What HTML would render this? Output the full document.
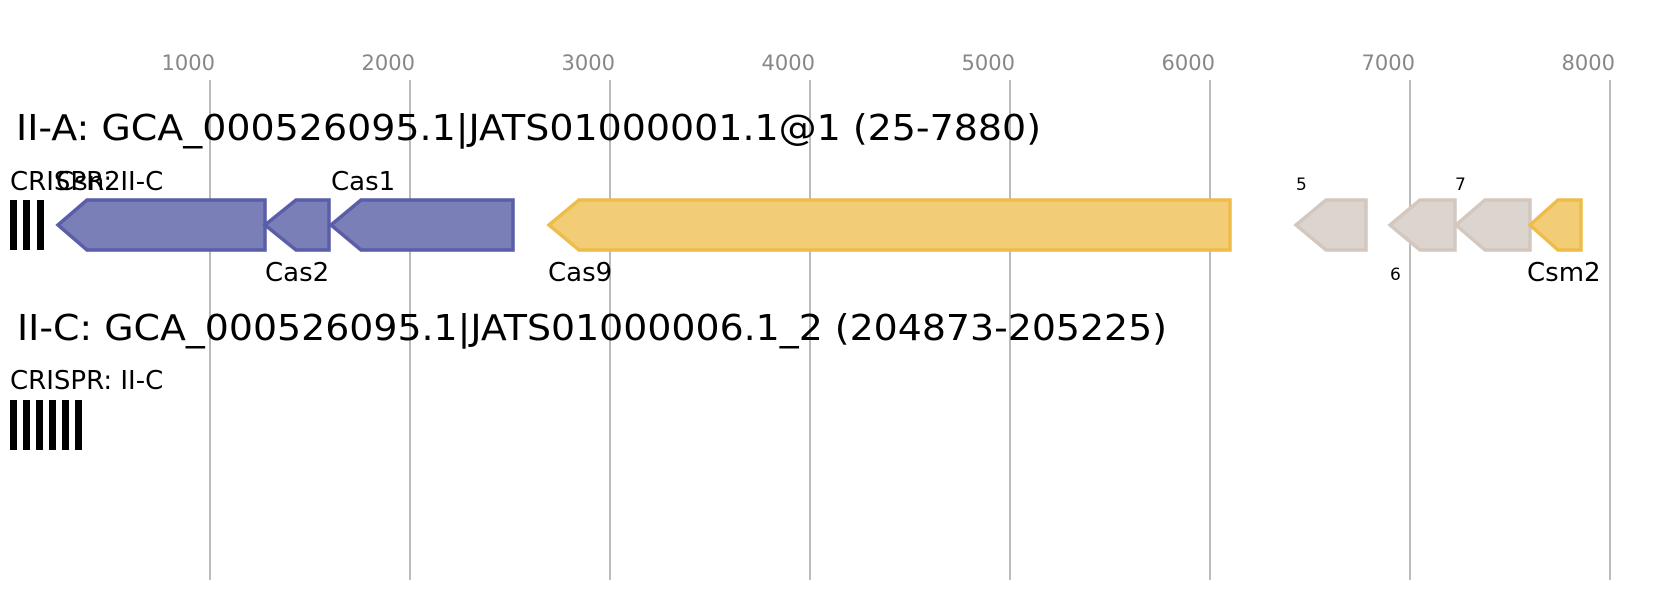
<!DOCTYPE html>
<html><head><meta charset="utf-8"><style>html,body{margin:0;padding:0;background:#fff}svg{display:block}</style></head>
<body>
<svg width="1671" height="600" viewBox="0 0 1671 600" xmlns="http://www.w3.org/2000/svg" font-family="'DejaVu Sans','Liberation Sans',sans-serif">
<g stroke="#bbbbbb" stroke-width="2">
<line x1="210" y1="80" x2="210" y2="580"/><line x1="410" y1="80" x2="410" y2="580"/>
<line x1="610" y1="80" x2="610" y2="580"/><line x1="810" y1="80" x2="810" y2="580"/>
<line x1="1010" y1="80" x2="1010" y2="580"/><line x1="1210" y1="80" x2="1210" y2="580"/>
<line x1="1410" y1="80" x2="1410" y2="580"/><line x1="1610" y1="80" x2="1610" y2="580"/>
</g>
<g fill="#888" font-size="21" text-anchor="end">
<text x="215" y="70">1000</text><text x="415" y="70">2000</text><text x="615" y="70">3000</text>
<text x="815" y="70">4000</text><text x="1015" y="70">5000</text><text x="1215" y="70">6000</text>
<text x="1415" y="70">7000</text><text x="1615" y="70">8000</text>
</g>
<text x="16" y="140" font-size="36" textLength="1025" lengthAdjust="spacingAndGlyphs">II-A: GCA_000526095.1|JATS01000001.1@1 (25-7880)</text>
<text x="10" y="190" font-size="26">CRISPR: II-C</text>
<g fill="#000"><rect x="10" y="200" width="7" height="50"/><rect x="23" y="200" width="7" height="50"/><rect x="37" y="200" width="7" height="50"/></g>
<g fill="#7b7fb7" stroke="#5a5ea8" stroke-width="3.5">
<polygon points="58,225 87,200 265,200 265,250 87,250"/>
<polygon points="265,225 296,200 329,200 329,250 296,250"/>
<polygon points="331,225 361,200 513,200 513,250 361,250"/>
</g>
<polygon points="549,225 579,200 1230,200 1230,250 579,250" fill="#f2cd76" stroke="#eebc4a" stroke-width="3.5"/>
<g fill="#dbd4cf" stroke="#d3c7be" stroke-width="3.5">
<polygon points="1296,225 1326,200 1366,200 1366,250 1326,250"/>
<polygon points="1390,225 1420,200 1455,200 1455,250 1420,250"/>
<polygon points="1456,225 1485,200 1530,200 1530,250 1485,250"/>
</g>
<polygon points="1530,225 1558,200 1581,200 1581,250 1558,250" fill="#f2cd76" stroke="#eebc4a" stroke-width="3.5"/>
<g font-size="26" fill="#000">
<text x="56" y="190">Csn2</text>
<text x="331" y="190">Cas1</text>
<text x="265" y="281">Cas2</text>
<text x="548" y="281">Cas9</text>
<text x="1527" y="281">Csm2</text>
</g>
<g font-size="17" fill="#000">
<text x="1296" y="190">5</text>
<text x="1455" y="190">7</text>
<text x="1390" y="280">6</text>
</g>
<text x="17" y="340" font-size="36" textLength="1150" lengthAdjust="spacingAndGlyphs">II-C: GCA_000526095.1|JATS01000006.1_2 (204873-205225)</text>
<text x="10" y="389" font-size="26">CRISPR: II-C</text>
<g fill="#000">
<rect x="10" y="400" width="7" height="50"/><rect x="23" y="400" width="7" height="50"/>
<rect x="36" y="400" width="7" height="50"/><rect x="49" y="400" width="7" height="50"/>
<rect x="62" y="400" width="7" height="50"/><rect x="75" y="400" width="7" height="50"/>
</g>
</svg>
</body></html>
